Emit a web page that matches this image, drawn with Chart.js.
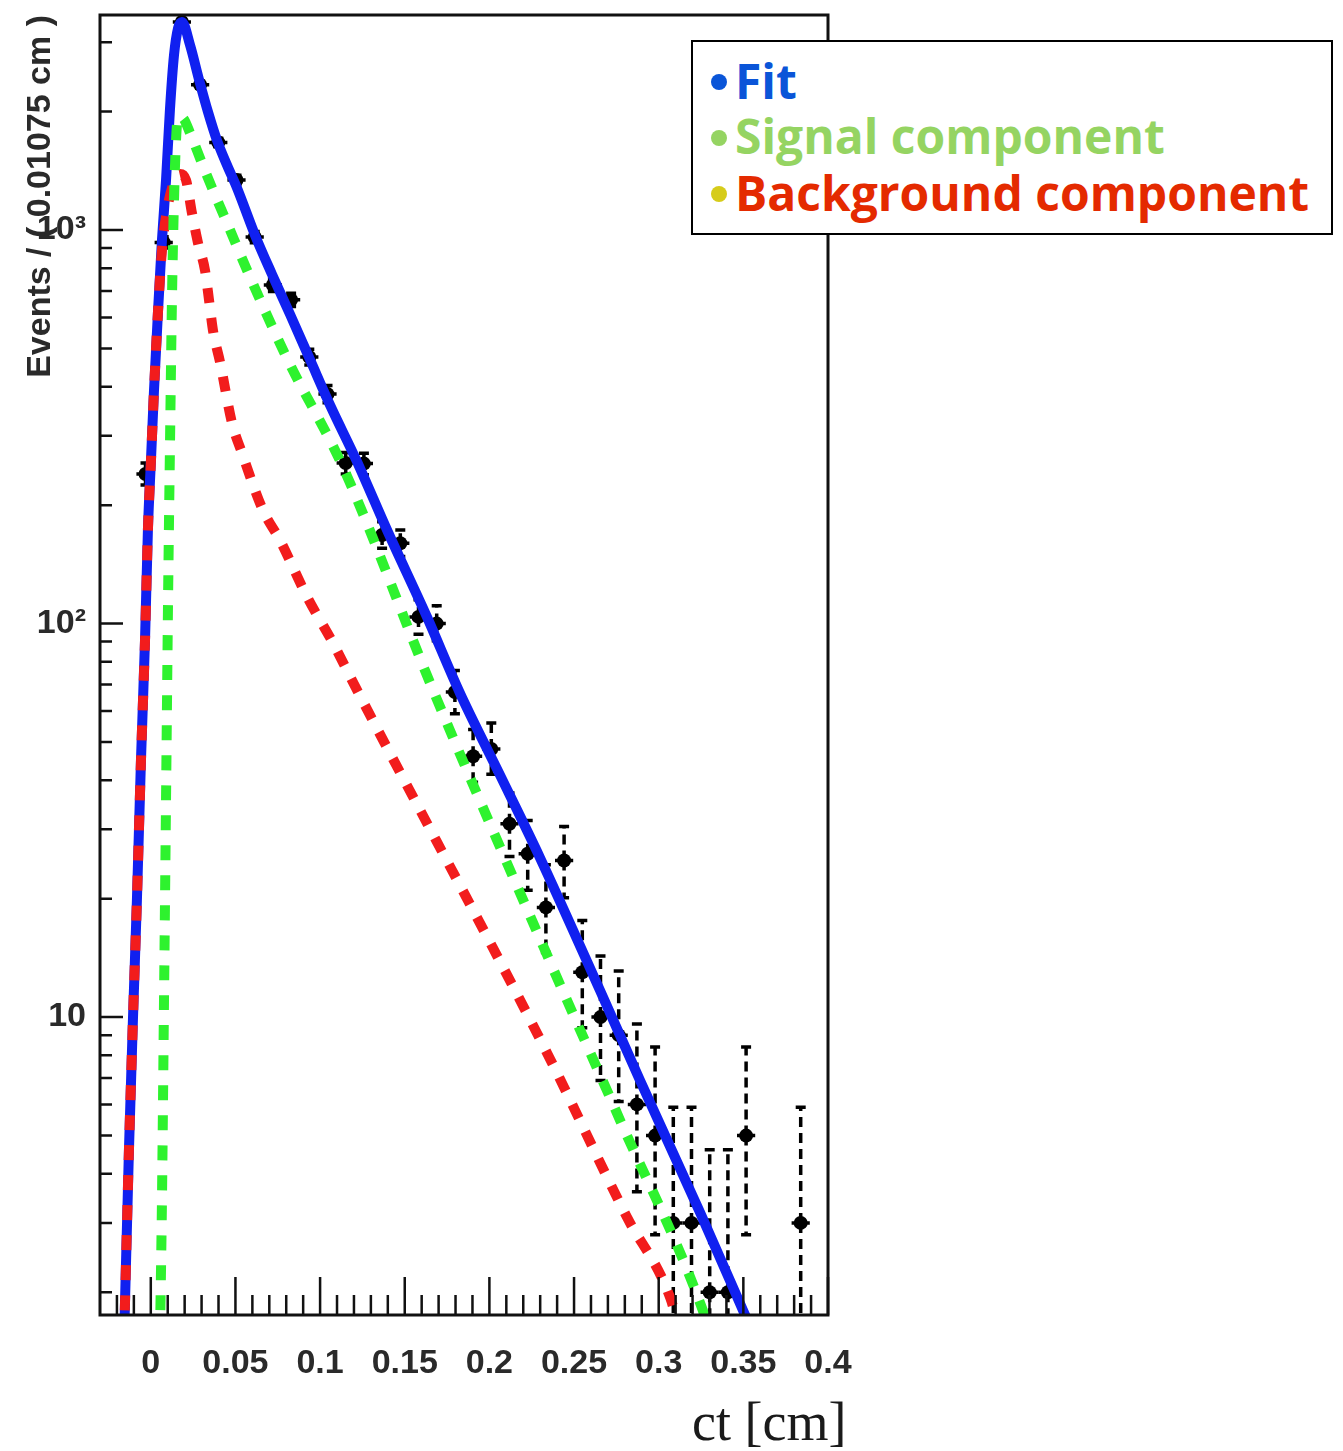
<!DOCTYPE html>
<html>
<head>
<meta charset="utf-8">
<title>ct distribution</title>
<script src="https://cdn.jsdelivr.net/npm/chart.js@4.4.0/dist/chart.umd.min.js"></script>
<style>
  body { margin: 0; background: #fff; }
  #wrap { position: relative; width: 1343px; height: 1451px; }
  #legendBox {
    position: absolute; left: 691px; top: 40px; width: 638px; height: 191px;
    border: 2px solid #000; background: #fff;
    font-family: 'Open Sans', sans-serif; font-weight: bold; font-size: 48px;
  }
  .row { position: absolute; left: 42px; line-height: 48px; white-space: nowrap; }
  .dot { position: absolute; left: 18px; width: 16px; height: 16px; border-radius: 50%; }
  #xTitle {
    position: absolute; left: 692px; top: 1395px; line-height: 54px;
    font-family: 'Liberation Serif', serif; font-size: 54px; color: #1a1a1a; white-space: nowrap;
  }
</style>
</head>
<body>
<div id="wrap">
  <canvas id="ctChart" width="1343" height="1451"></canvas>
  <div id="legendBox">
    <span class="dot" style="top:32px;background:#0a55d8"></span>
    <div class="row" style="top:15px;color:#0a55d8">Fit</div>
    <span class="dot" style="top:88px;background:#95d462"></span>
    <div class="row" style="top:70px;color:#95d462">Signal component</div>
    <span class="dot" style="top:144px;background:#d6cc1a"></span>
    <div class="row" style="top:127px;color:#e42a00">Background component</div>
  </div>
  <div id="xTitle">ct [cm]</div>
</div>
<script>
// histogram: bins of 0.01075 cm, centres and event counts
const binWidth = 0.01075;
const binCenters = [-0.003125, 0.007625, 0.018375, 0.029125, 0.039875, 0.050625, 0.061375,
  0.072125, 0.082875, 0.093625, 0.104375, 0.115125, 0.125875, 0.136625, 0.147375, 0.158125,
  0.168875, 0.179625, 0.190375, 0.201125, 0.211875, 0.222625, 0.233375, 0.244125, 0.254875,
  0.265625, 0.276375, 0.287125, 0.297875, 0.308625, 0.319375, 0.330125, 0.340875, 0.351625,
  0.383875];
const counts = [240, 930, 3380, 2340, 1670, 1340, 960, 725, 665, 476, 383, 256, 255, 168, 160,
  104, 100, 67, 46, 48, 31, 26, 19, 25, 13, 10, 9, 6, 5, 3, 3, 2, 2, 5, 3];
// poisson intervals
const errLow = [225, 900, 3322, 2292, 1629, 1304, 929, 698, 639, 454, 364, 240, 239, 155.5, 148,
  94, 90.5, 59, 39.5, 41.4, 25.6, 21.0, 14.6, 20.1, 9.4, 6.9, 6.1, 3.6, 2.8, 1.4, 1.4, 0.7, 0.7, 2.8, 1.4];
const errHigh = [256, 961, 3438, 2389, 1712, 1378, 992, 752, 691, 498, 403, 272, 271, 181.5, 173,
  115, 111, 76, 53.8, 55.9, 37.1, 31.6, 24.4, 30.5, 17.6, 14.3, 13.1, 9.6, 8.4, 5.9, 5.9, 4.6, 4.6, 8.4, 5.9];

// fit curves
const fitX = [-0.0158, -0.0129, -0.0105, -0.0082, -0.0058, -0.0034, -0.0017, 0.0001, 0.0019,
  0.0043, 0.0066, 0.0090, 0.0113, 0.0137, 0.0161, 0.0184, 0.0232, 0.0285, 0.0338, 0.0391,
  0.0450, 0.0509, 0.0616, 0.0717, 0.0823, 0.0941, 0.1059, 0.1218, 0.1395, 0.1631,
  0.1826, 0.2063, 0.2299, 0.2653, 0.2890, 0.3244, 0.3510, 0.3575];
const fitY = [1.51, 4.6, 10, 19.8, 45, 91, 173, 260, 392, 626, 943, 1340, 2020, 2780, 3260,
  3380, 2950, 2410, 1995, 1690, 1463, 1280, 970, 770, 610, 468, 359, 258, 173, 104,
  66.6, 41.2, 25.4, 11.7, 6.9, 3.19, 1.75, 1.51];

const sigX = [0.0054, 0.0066, 0.0078, 0.0090, 0.0102, 0.0113, 0.0125, 0.0137, 0.0149, 0.0161,
  0.0190, 0.0232, 0.0302, 0.0367, 0.0438, 0.0586, 0.0810, 0.1135, 0.1667, 0.2328, 0.2771,
  0.3256, 0.3315];
const sigY = [1.51, 3.43, 11.0, 35.6, 115, 276, 664, 1190, 1690, 1940, 1925, 1764, 1480, 1264,
  1073, 760, 467, 250, 67.8, 14.8, 5.48, 1.82, 1.51];

const bkgX = [-0.0158, -0.0129, -0.0105, -0.0082, -0.0058, -0.0034, -0.0017, 0.0001, 0.0019,
  0.0043, 0.0066, 0.0096, 0.0131, 0.0173, 0.0208, 0.0243, 0.0279, 0.0320, 0.0344, 0.0367,
  0.0409, 0.0480, 0.0539, 0.0663, 0.0763, 0.0923, 0.1076, 0.1218, 0.2341, 0.2813, 0.3067, 0.3138];
const bkgY = [1.51, 4.6, 10, 19.8, 45, 91, 173, 260, 392, 626, 890, 1124, 1301, 1388, 1340,
  1105, 927, 791, 664, 557, 462, 323, 271, 194, 163, 117, 89.3, 67.8, 8.1, 3.1, 1.94, 1.51];

const xTickValues = [0, 0.05, 0.1, 0.15, 0.2, 0.25, 0.3, 0.35, 0.4];
const xTickLabels = ['0', '0.05', '0.1', '0.15', '0.2', '0.25', '0.3', '0.35', '0.4'];
const yTickValues = [10, 100, 1000];
const yTickLabels = ['10', '10\u00b2', '10\u00b3'];

const toPoints = (xs, ys) => xs.map((x, i) => ({ x: x, y: ys[i] }));
const labelFont = { family: 'Liberation Sans', size: 34, weight: 'bold' };

// vertical poisson bars (dashed) and bin-width bars under the markers
const errorBars = {
  id: 'errorBars',
  beforeDatasetsDraw(chart) {
    const { ctx, chartArea: a, scales: { x, y } } = chart;
    ctx.save();
    ctx.beginPath();
    ctx.rect(a.left, a.top, a.right - a.left, a.bottom - a.top);
    ctx.clip();
    ctx.strokeStyle = '#000';
    ctx.lineWidth = 3.5;
    binCenters.forEach((c, i) => {
      const px = x.getPixelForValue(c);
      const py = y.getPixelForValue(counts[i]);
      const lo = y.getPixelForValue(errLow[i]);
      const hi = y.getPixelForValue(errHigh[i]);
      ctx.setLineDash([10, 6]);
      ctx.beginPath();
      ctx.moveTo(px, py);
      ctx.lineTo(px, hi);
      ctx.moveTo(px, py);
      ctx.lineTo(px, lo);
      ctx.stroke();
      ctx.setLineDash([]);
      ctx.beginPath();
      ctx.moveTo(px - 5, hi); ctx.lineTo(px + 5, hi);
      ctx.moveTo(px - 5, lo); ctx.lineTo(px + 5, lo);
      ctx.moveTo(x.getPixelForValue(c - binWidth / 2), py);
      ctx.lineTo(x.getPixelForValue(c + binWidth / 2), py);
      ctx.stroke();
    });
    ctx.restore();
  }
};

// frame with inward ticks on the bottom and left edges
const frameTicks = {
  id: 'frameTicks',
  afterDatasetsDraw(chart) {
    const { ctx, chartArea: a, scales: { x, y } } = chart;
    ctx.save();
    ctx.strokeStyle = '#111';
    ctx.lineWidth = 2.5;
    ctx.beginPath();
    for (let k = -2; k <= 40; k++) {
      const px = x.getPixelForValue(k / 100);
      const len = k % 5 === 0 ? 38 : 20;
      ctx.moveTo(px, a.bottom);
      ctx.lineTo(px, a.bottom - len);
    }
    for (let e = 0; e <= 3; e++) {
      for (let m = 1; m <= 9; m++) {
        const v = m * Math.pow(10, e);
        if (v < y.min || v > y.max) continue;
        const py = y.getPixelForValue(v);
        ctx.moveTo(a.left, py);
        ctx.lineTo(a.left + (m === 1 ? 23 : 12), py);
      }
    }
    ctx.stroke();
    ctx.lineWidth = 3;
    ctx.strokeRect(a.left, a.top, a.right - a.left, a.bottom - a.top);
    ctx.restore();
  }
};

const lineSet = (label, xs, ys, color, order, dash) => ({
  label: label,
  data: toPoints(xs, ys),
  showLine: true,
  borderColor: color,
  borderWidth: 10,
  borderDash: dash,
  borderJoinStyle: 'round',
  pointRadius: 0,
  cubicInterpolationMode: 'monotone',
  clip: 0,
  order: order
});

new Chart(document.getElementById('ctChart'), {
  type: 'scatter',
  data: {
    datasets: [
      {
        label: 'Data',
        data: toPoints(binCenters, counts),
        pointRadius: 7,
        pointBackgroundColor: '#000',
        pointBorderWidth: 0,
        order: 4
      },
      lineSet('Fit', fitX, fitY, '#1020f0', 3, []),
      lineSet('Background component', bkgX, bkgY, '#f21c1c', 2, [15, 15]),
      lineSet('Signal component', sigX, sigY, '#2ef22e', 1, [15, 15])
    ]
  },
  options: {
    responsive: false,
    animation: false,
    layout: { padding: { left: 0, top: 15, right: 515, bottom: 0 } },
    plugins: { legend: { display: false }, tooltip: { enabled: false } },
    scales: {
      x: {
        type: 'linear',
        min: -0.03,
        max: 0.4,
        grid: { display: false },
        border: { display: false },
        ticks: {
          font: labelFont, color: '#2a2a2a', padding: 20,
          autoSkip: false, maxRotation: 0,
          callback: (v, i) => xTickLabels[i]
        },
        afterBuildTicks: s => { s.ticks = xTickValues.map(v => ({ value: v })); },
        afterFit: s => { s.height = 136; }
      },
      y: {
        type: 'logarithmic',
        min: 1.75,
        max: 3520,
        grid: { display: false },
        border: { display: false },
        ticks: {
          font: labelFont, color: '#2a2a2a', padding: 6,
          callback: v => yTickLabels[yTickValues.indexOf(v)]
        },
        afterBuildTicks: s => { s.ticks = yTickValues.map(v => ({ value: v })); },
        afterFit: s => { s.width = 100; s.paddingTop = 0; s.paddingBottom = 0; },
        title: {
          display: true,
          text: 'Events / ( 0.01075 cm )',
          align: 'end',
          color: '#2a2a2a',
          font: labelFont,
          padding: { top: 20, bottom: 0 }
        }
      }
    }
  },
  plugins: [errorBars, frameTicks]
});
</script>
</body>
</html>
